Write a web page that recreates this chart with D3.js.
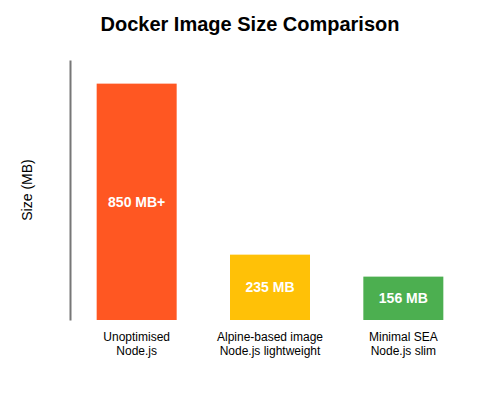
<!DOCTYPE html>
<html>
<head>
<meta charset="utf-8">
<script src="https://cdn.jsdelivr.net/npm/d3@7"></script>
<style>
  body { margin: 0; background: #fff; }
  svg { font-family: "Liberation Sans", Arial, sans-serif; }
</style>
</head>
<body>
<div id="chart"></div>
<script>
// datos del grafico
const categories = ["Unoptimised\nNode.js", "Alpine-based image\nNode.js lightweight", "Minimal SEA\nNode.js slim"]
const sizes = [850, 235, 156]
const valueLabels = ["850 MB+", "235 MB", "156 MB"]
const colors = ["#FF5722", "#FFC107", "#4CAF50"]

const W = 500, H = 400
const margin = {top: 60, right: 30, bottom: 80, left: 70}
const width = W - margin.left - margin.right
const height = H - margin.top - margin.bottom

const svg = d3.select("#chart").append("svg")
  .attr("width", W)
  .attr("height", H)

const g = svg.append("g")
  .attr("transform", "translate(" + margin.left + "," + margin.top + ")")

const x = d3.scaleBand()
  .domain(categories)
  .range([0, width])
  .paddingInner(0.4)
  .paddingOuter(0.2)

const y = d3.scaleLinear()
  .domain([0, d3.max(sizes) * 1.1])
  .range([height, 0])

// barras
g.selectAll("rect.bar")
  .data(sizes)
  .enter()
  .append("rect")
  .attr("class", "bar")
  .attr("x", (d, i) => x(categories[i]))
  .attr("y", d => y(d))
  .attr("width", x.bandwidth())
  .attr("height", d => height - y(d))
  .attr("fill", (d, i) => colors[i])

// etiquetas dentro de las barras
g.selectAll("text.val")
  .data(sizes)
  .enter()
  .append("text")
  .attr("class", "val")
  .attr("x", (d, i) => x(categories[i]) + x.bandwidth() / 2)
  .attr("y", d => (y(d) + height) / 2)
  .attr("dy", "0.35em")
  .attr("text-anchor", "middle")
  .attr("fill", "#fff")
  .attr("font-weight", "bold")
  .attr("font-size", "14px")
  .text((d, i) => valueLabels[i])

// eje y sin ticks
const yAxis = g.append("g").call(d3.axisLeft(y).tickValues([]).tickSizeOuter(0))
yAxis.select(".domain").attr("stroke", "#777").attr("stroke-width", 2)

// eje x: solo etiquetas en dos lineas
const xAxis = g.append("g")
  .attr("transform", "translate(0," + height + ")")
  .call(d3.axisBottom(x).tickSize(0).tickFormat(""))
xAxis.select(".domain").remove()
xAxis.selectAll(".tick").each(function(d) {
  const t = d3.select(this).append("text")
    .attr("fill", "#000")
    .attr("font-size", "12px")
    .attr("text-anchor", "middle")
    .attr("y", 21)
  d.split("\n").forEach((line, k) => {
    t.append("tspan").attr("x", 0).attr("dy", k == 0 ? 0 : "1.2em").text(line)
  })
})

// titulo
svg.append("text")
  .attr("x", W / 2)
  .attr("y", 31)
  .attr("text-anchor", "middle")
  .attr("font-size", "20px")
  .attr("font-weight", "bold")
  .text("Docker Image Size Comparison")

// titulo eje y
svg.append("text")
  .attr("transform", "translate(32," + (margin.top + height / 2) + ") rotate(-90)")
  .attr("text-anchor", "middle")
  .attr("font-size", "14px")
  .text("Size (MB)")
</script>
</body>
</html>
